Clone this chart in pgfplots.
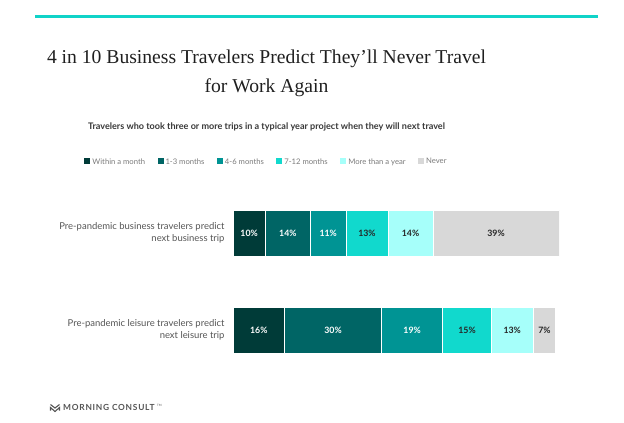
\documentclass[border=0pt]{standalone}
\usepackage{fontspec}
\usepackage{pgfplots}
\pgfplotsset{compat=1.18}
\newfontfamily\lato{Lato}
\newfontfamily\tserif{Liberation Serif}
\definecolor{c1}{HTML}{003B38}
\definecolor{c2}{HTML}{006565}
\definecolor{c3}{HTML}{009494}
\definecolor{c4}{HTML}{11D9CD}
\definecolor{c5}{HTML}{A6FFFA}
\definecolor{c6}{HTML}{D8D8D8}
\definecolor{topline}{HTML}{10D3C8}
\definecolor{gtext}{HTML}{555555}
\definecolor{ltext}{HTML}{7A7A7A}
\begin{document}
\begin{tikzpicture}[x=1bp,y=1bp]
\path[use as bounding box] (0,0) rectangle (624,422);
\draw[topline, line width=3bp] (35,405) -- (598,405);
\node[anchor=base, font=\tserif\fontsize{19.7}{24}\selectfont, text=black!88] at (266.5,359) {4 in 10 Business Travelers Predict They’ll Never Travel};
\node[anchor=base, font=\tserif\fontsize{19.7}{24}\selectfont, text=black!88] at (266.5,330) {for Work Again};
\node[anchor=base, font=\lato\bfseries\fontsize{9.1}{11}\selectfont, text=black!78] at (266.5,293) {Travelers who took three or more trips in a typical year project when they will next travel};
\begin{axis}[
  at={(233bp,43.5bp)}, anchor=south west, scale only axis,
  width=326bp, height=194bp,
  xmin=0, xmax=101, ymin=-0.5, ymax=1.5,
  xbar stacked, bar width=46bp,
  axis x line=none, axis y line=left,
  y axis line style={draw=none}, major tick length=0,
  ytick={0,1},
  yticklabels={{Pre-pandemic leisure travelers predict\\next leisure trip},{Pre-pandemic business travelers predict\\next business trip}},
  yticklabel style={align=right, font=\lato\fontsize{9.5}{12}\selectfont, text=gtext, xshift=-5bp},
  legend columns=6,
  legend style={at={(axis description cs:0.1028,1.116)}, anchor=center, draw=none, fill=none,
    font=\lato\fontsize{7.7}{9}\selectfont, text=ltext,
    /tikz/every even column/.append style={column sep=10.5bp}},
  legend image code/.code={\fill[#1, draw=none] (0bp,-2.2bp) rectangle (6bp,3.8bp);},
  every axis plot/.append style={draw=white, line width=0.8bp},
]
\addplot[fill=c1] coordinates {(10,1) (16,0)};
\addplot[fill=c2] coordinates {(14,1) (30,0)};
\addplot[fill=c3] coordinates {(11,1) (19,0)};
\addplot[fill=c4] coordinates {(13,1) (15,0)};
\addplot[fill=c5] coordinates {(14,1) (13,0)};
\addplot[fill=c6] coordinates {(39,1) (7,0)};
\legend{Within a month,1-3 months,4-6 months,7-12 months,More than a year,Never}
\end{axis}
\begin{axis}[
  at={(233bp,43.5bp)}, anchor=south west, scale only axis,
  width=326bp, height=194bp,
  xmin=0, xmax=101, ymin=-0.5, ymax=1.5, hide axis,
  point meta=explicit symbolic,
  nodes near coords,
]
\addplot[only marks, mark=*, mark size=0.01pt, mark options={draw=none,fill=none},
  nodes near coords style={anchor=center, text=white, font=\lato\bfseries\fontsize{8.8}{10}\selectfont}]
  coordinates {(5,1) [10\%] (17,1) [14\%] (29.5,1) [11\%] (8,0) [16\%] (31,0) [30\%] (55.5,0) [19\%]};
\addplot[only marks, mark=*, mark size=0.01pt, mark options={draw=none,fill=none},
  nodes near coords style={anchor=center, text=black!85, font=\lato\bfseries\fontsize{8.8}{10}\selectfont}]
  coordinates {(41.5,1) [13\%] (55,1) [14\%] (81.5,1) [39\%] (72.5,0) [15\%] (86.5,0) [13\%] (96.5,0) [7\%]};
\end{axis}
\draw[gtext, line width=1.1bp] (50.5,17.5) -- (55,14) -- (59.5,17.5);
\draw[gtext, line width=1.1bp] (50.5,11.5) -- (50.5,14.5) -- (55,10.5) -- (59.5,14.5) -- (59.5,11.5);
\node[anchor=base west, inner sep=0, font=\lato\bfseries\fontsize{8.4}{9}\selectfont\addfontfeature{LetterSpace=9}, text=gtext] at (63,11.5) {MORNING CONSULT};
\node[anchor=base west, inner sep=0, font=\lato\fontsize{3}{4}\selectfont, text=gtext] at (157,16) {TM};
\end{tikzpicture}
\end{document}
